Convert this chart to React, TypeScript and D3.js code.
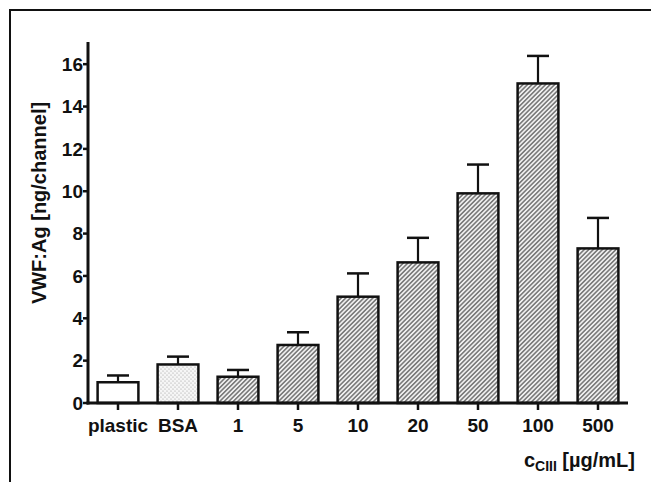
import React from "react";
import * as d3 from "d3";

// Bar chart: VWF:Ag bound per channel for each coating
const categories = ["plastic", "BSA", "1", "5", "10", "20", "50", "100", "500"];
const means = [0.98, 1.82, 1.24, 2.74, 5.02, 6.64, 9.9, 15.09, 7.3];
const errors = [0.32, 0.37, 0.32, 0.6, 1.1, 1.16, 1.36, 1.3, 1.44];
const fills = ["white", "url(#dots)", "url(#hatch)", "url(#hatch)", "url(#hatch)", "url(#hatch)", "url(#hatch)", "url(#hatch)", "url(#hatch)"];
const yTicks = [0, 2, 4, 6, 8, 10, 12, 14, 16];

const W = 651;
const H = 482;
const x0 = 88;
const x1 = 628;
const yBase = 403;
const yTop = 43;

export default function App() {
  const x = d3.scaleBand<string>().domain(categories).range([x0, x1]).paddingInner(0.32).paddingOuter(0.16);
  const y = d3.scaleLinear().domain([0, 17]).range([yBase, yTop]);
  const font = "'Liberation Sans', Arial, sans-serif";

  return (
    <svg width={W} height={H} style={{ position: "absolute", left: 0, top: 0, background: "white" }} fontFamily={font}>
      <defs>
        <pattern id="hatch" width={3.2} height={3.2} patternUnits="userSpaceOnUse" patternTransform="rotate(45)">
          <rect width={3.2} height={3.2} fill="#f0f0f0" />
          <line x1={0.8} y1={0} x2={0.8} y2={3.2} stroke="#555" strokeWidth={1.2} />
        </pattern>
        <pattern id="dots" width={4} height={4} patternUnits="userSpaceOnUse">
          <rect width={4} height={4} fill="#f6f6f6" />
          <circle cx={1} cy={1} r={0.6} fill="#9a9a9a" />
          <circle cx={3} cy={3} r={0.6} fill="#9a9a9a" />
        </pattern>
      </defs>

      {/* frame */}
      <line x1={9} y1={10} x2={W} y2={10} stroke="#111" strokeWidth={2} />
      <line x1={10} y1={9} x2={10} y2={H} stroke="#111" strokeWidth={2} />

      {/* bars */}
      {categories.map((c, i) => {
        const bx = x(c)!;
        const bw = x.bandwidth();
        const cx = bx + bw / 2;
        const top = y(means[i]);
        const errTop = y(means[i] + errors[i]);
        return (
          <g key={c}>
            <line x1={cx} x2={cx} y1={top} y2={errTop} stroke="#111" strokeWidth={2.2} />
            <line x1={cx - 11} x2={cx + 11} y1={errTop} y2={errTop} stroke="#111" strokeWidth={2.5} />
            <rect x={bx} y={top} width={bw} height={yBase - top} fill={fills[i]} stroke="#111" strokeWidth={2.5} />
          </g>
        );
      })}

      {/* y axis */}
      <line x1={x0} x2={x0} y1={yTop - 1} y2={yBase + 1.5} stroke="#111" strokeWidth={3} />
      {yTicks.map((t) => (
        <g key={t}>
          <line x1={x0 - 5} x2={x0} y1={y(t)} y2={y(t)} stroke="#111" strokeWidth={2.5} />
          <text x={x0 - 5} y={y(t)} dy="0.36em" textAnchor="end" fontSize={19} fontWeight="bold" fill="#111">
            {t}
          </text>
        </g>
      ))}

      {/* x axis */}
      <line x1={x0 - 1.5} x2={x1} y1={yBase} y2={yBase} stroke="#111" strokeWidth={3} />
      {categories.map((c) => {
        const cx = x(c)! + x.bandwidth() / 2;
        return (
          <g key={c}>
            <line x1={cx} x2={cx} y1={yBase} y2={yBase + 7} stroke="#111" strokeWidth={2.5} />
            <text x={cx} y={432} textAnchor="middle" fontSize={19} fontWeight="bold" fill="#111">
              {c}
            </text>
          </g>
        );
      })}

      {/* axis titles */}
      <text transform={`translate(46,203) rotate(-90)`} textAnchor="middle" fontSize={20} fontWeight="bold" fill="#111">
        VWF:Ag [ng/channel]
      </text>
      <text x={635} y={467} textAnchor="end" fontSize={20} fontWeight="bold" fill="#111">
        c<tspan fontSize={14} dy={4}>CIII</tspan>
        <tspan dy={-4}> [µg/mL]</tspan>
      </text>
    </svg>
  );
}
